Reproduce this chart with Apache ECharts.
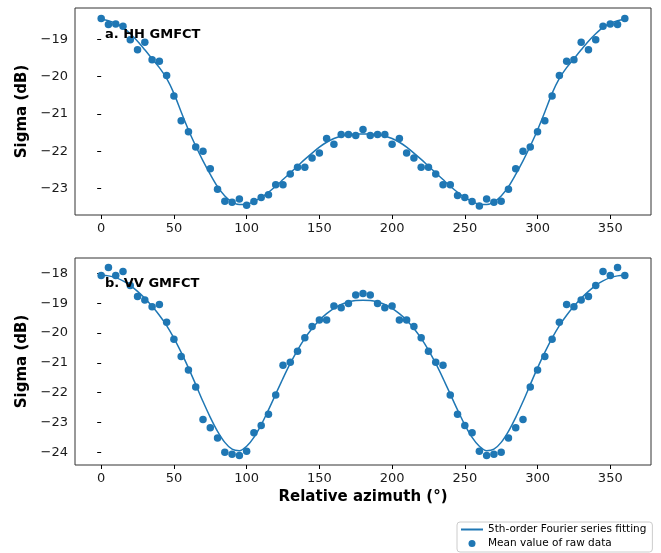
<!DOCTYPE html>
<html lang="en">

<head>
    <meta charset="UTF-8">
    <title>Sigma vs relative azimuth</title>
    <style>
        body {
            margin: 0;
            background-color: #ffffff;
        }

        #chart {
            width: 661px;
            height: 553px;
        }
    </style>
</head>

<body>
    <div id="chart"></div>
    <script src="https://cdn.jsdelivr.net/npm/echarts@6/dist/echarts.min.js"></script>
    <script>
        // azimuth angles (deg)
        const angles = [0, 5, 10, 15, 20, 25, 30, 35, 40, 45, 50, 55, 60, 65, 70, 75, 80, 85, 90, 95,
            100, 105, 110, 115, 120, 125, 130, 135, 140, 145, 150, 155, 160, 165, 170, 175, 180, 185, 190, 195,
            200, 205, 210, 215, 220, 225, 230, 235, 240, 245, 250, 255, 260, 265, 270, 275, 280, 285, 290, 295,
            300, 305, 310, 315, 320, 325, 330, 335, 340, 345, 350, 355, 360];

        // HH mean raw data
        const hhRaw = [-18.44, -18.60, -18.59, -18.65, -19.01, -19.28, -19.08, -19.55, -19.59, -19.97,
            -20.52, -21.18, -21.48, -21.89, -22.00, -22.47, -23.02, -23.34, -23.37, -23.28,
            -23.45, -23.35, -23.24, -23.17, -22.90, -22.90, -22.61, -22.43, -22.43, -22.18,
            -22.05, -21.66, -21.81, -21.55, -21.55, -21.58, -21.42, -21.58, -21.55, -21.55,
            -21.81, -21.66, -22.05, -22.18, -22.43, -22.43, -22.61, -22.90, -22.90, -23.19,
            -23.24, -23.35, -23.47, -23.28, -23.37, -23.34, -23.02, -22.47, -22.00, -21.89,
            -21.48, -21.18, -20.52, -19.97, -19.59, -19.55, -19.08, -19.28, -19.01, -18.65,
            -18.59, -18.60, -18.44];

        // HH fitted curve
        const hhFit = [-18.47, -18.50, -18.57, -18.68, -18.85, -19.05, -19.28, -19.52, -19.76, -20.05,
            -20.45, -20.95, -21.43, -21.86, -22.26, -22.62, -22.95, -23.20, -23.36, -23.43,
            -23.42, -23.35, -23.24, -23.10, -22.94, -22.76, -22.58, -22.40, -22.22, -22.05,
            -21.89, -21.76, -21.66, -21.59, -21.55, -21.54, -21.54, -21.54, -21.55, -21.59,
            -21.66, -21.76, -21.89, -22.05, -22.22, -22.40, -22.58, -22.76, -22.94, -23.10,
            -23.24, -23.35, -23.42, -23.43, -23.36, -23.20, -22.95, -22.62, -22.26, -21.86,
            -21.43, -20.95, -20.45, -20.05, -19.76, -19.52, -19.28, -19.05, -18.85, -18.68,
            -18.57, -18.50, -18.47];

        // VV mean raw data
        const vvRaw = [-18.07, -17.80, -18.07, -17.93, -18.40, -18.77, -18.89, -19.12, -19.04, -19.64,
            -20.21, -20.79, -21.24, -21.81, -22.90, -23.18, -23.52, -24.00, -24.07, -24.11,
            -23.97, -23.35, -23.10, -22.73, -22.08, -21.08, -20.98, -20.61, -20.16, -19.78,
            -19.56, -19.56, -19.09, -19.15, -19.01, -18.72, -18.67, -18.72, -19.01, -19.15,
            -19.09, -19.56, -19.56, -19.78, -20.16, -20.61, -20.98, -21.08, -22.08, -22.73,
            -23.10, -23.35, -23.97, -24.11, -24.07, -24.00, -23.52, -23.18, -22.90, -21.81,
            -21.24, -20.79, -20.21, -19.64, -19.04, -19.12, -18.89, -18.77, -18.40, -17.93,
            -18.07, -17.80, -18.07];

        // VV fitted curve
        const vvFit = [-18.06, -18.08, -18.14, -18.25, -18.40, -18.60, -18.83, -19.10, -19.40, -19.75,
            -20.17, -20.65, -21.17, -21.73, -22.30, -22.83, -23.30, -23.67, -23.90, -23.95,
            -23.80, -23.50, -23.08, -22.58, -22.05, -21.52, -21.02, -20.57, -20.18, -19.85,
            -19.57, -19.35, -19.17, -19.04, -18.96, -18.91, -18.90, -18.91, -18.96, -19.04,
            -19.17, -19.35, -19.57, -19.85, -20.18, -20.57, -21.02, -21.52, -22.05, -22.58,
            -23.08, -23.50, -23.80, -23.95, -23.90, -23.67, -23.30, -22.83, -22.30, -21.73,
            -21.17, -20.65, -20.17, -19.75, -19.40, -19.10, -18.83, -18.60, -18.40, -18.25,
            -18.14, -18.08, -18.06];

        const xTicks = [0, 50, 100, 150, 200, 250, 300, 350];
        const hhTicks = [-23, -22, -21, -20, -19];
        const vvTicks = [-24, -23, -22, -21, -20, -19, -18];

        const fitName = '5th-order Fourier series fitting';
        const rawName = 'Mean value of raw data';
        const blue = '#1f77b4';
        const font = 'DejaVu Sans';

        const pairs = (ys) => angles.map((a, i) => [a, ys[i]]);
        const minus = (v) => String(v).replace('-', '\u2212');

        function xAxisOpt(idx, withName) {
            return {
                type: 'value', gridIndex: idx, min: -18, max: 378,
                splitLine: { show: false },
                axisLine: { show: false },
                axisTick: { show: true, length: 4, customValues: xTicks, lineStyle: { color: '#000' } },
                axisLabel: {
                    customValues: xTicks, margin: 7, color: '#1a1a1a',
                    fontFamily: font, fontSize: 13
                },
                name: withName ? 'Relative azimuth (°)' : '',
                nameLocation: 'middle', nameGap: 25,
                nameTextStyle: { fontFamily: font, fontSize: 15, fontWeight: 'bold', color: '#000' }
            };
        }

        function yAxisOpt(idx, min, max, ticks) {
            return {
                type: 'value', gridIndex: idx, min: min, max: max,
                splitLine: { show: false },
                axisLine: { show: false },
                axisTick: { show: true, length: 4, customValues: ticks, lineStyle: { color: '#000' } },
                axisLabel: {
                    customValues: ticks, margin: 7, color: '#1a1a1a',
                    fontFamily: font, fontSize: 13, formatter: minus
                },
                name: 'Sigma (dB)', nameLocation: 'middle', nameGap: 43,
                nameTextStyle: { fontFamily: font, fontSize: 15, fontWeight: 'bold', color: '#000' }
            };
        }

        const chart = echarts.init(document.getElementById('chart'), null, { renderer: 'canvas' });

        chart.setOption({
            animation: false,
            backgroundColor: '#ffffff',
            title: [
                {
                    text: 'a. HH GMFCT', left: 105, top: 28, padding: 0,
                    textStyle: { fontFamily: font, fontSize: 13, fontWeight: 'bold', color: '#000' }
                },
                {
                    text: 'b. VV GMFCT', left: 105, top: 277, padding: 0,
                    textStyle: { fontFamily: font, fontSize: 13, fontWeight: 'bold', color: '#000' }
                }
            ],
            grid: [
                { left: 75, top: 8, width: 576, height: 207, show: true, borderColor: '#333', borderWidth: 1 },
                { left: 75, top: 258, width: 576, height: 207, show: true, borderColor: '#333', borderWidth: 1 }
            ],
            xAxis: [xAxisOpt(0, false), xAxisOpt(1, true)],
            yAxis: [
                yAxisOpt(0, -23.71, -18.16, hhTicks),
                yAxisOpt(1, -24.43, -17.48, vvTicks)
            ],
            legend: {
                orient: 'vertical', left: 457, top: 522,
                padding: [1, 6, 2, 3], itemGap: 1,
                itemWidth: 22, itemHeight: 7,
                borderColor: '#cccccc', borderWidth: 1, borderRadius: 3,
                backgroundColor: 'rgba(255,255,255,0.8)',
                textStyle: { fontFamily: font, fontSize: 10.5, color: '#000', lineHeight: 13 },
                data: [
                    { name: fitName, itemStyle: { color: 'rgba(0,0,0,0)', borderWidth: 0 } },
                    { name: rawName, icon: 'circle' }
                ]
            },
            series: [
                {
                    name: fitName, type: 'line', xAxisIndex: 0, yAxisIndex: 0,
                    data: pairs(hhFit), symbol: 'none', smooth: 0.3,
                    lineStyle: { color: blue, width: 1.5 }, itemStyle: { color: blue }, z: 2
                },
                {
                    name: rawName, type: 'scatter', xAxisIndex: 0, yAxisIndex: 0,
                    data: pairs(hhRaw), symbolSize: 7.5, itemStyle: { color: blue, opacity: 1 }, z: 3
                },
                {
                    name: fitName, type: 'line', xAxisIndex: 1, yAxisIndex: 1,
                    data: pairs(vvFit), symbol: 'none', smooth: 0.3,
                    lineStyle: { color: blue, width: 1.5 }, itemStyle: { color: blue }, z: 2
                },
                {
                    name: rawName, type: 'scatter', xAxisIndex: 1, yAxisIndex: 1,
                    data: pairs(vvRaw), symbolSize: 7.5, itemStyle: { color: blue, opacity: 1 }, z: 3
                }
            ]
        });
    </script>
</body>

</html>
